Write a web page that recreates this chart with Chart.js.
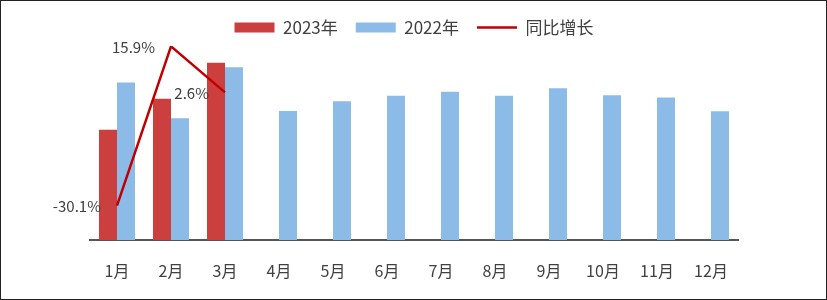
<!DOCTYPE html>
<html>
<head>
<meta charset="utf-8">
<script src="https://cdn.jsdelivr.net/npm/chart.js@4/dist/chart.umd.min.js"></script>
<style>
  html, body { margin: 0; padding: 0; background: #fff; }
  .frame {
    width: 827px;
    height: 300px;
    box-sizing: border-box;
    border: 1px solid #222;
    position: relative;
  }
  .frame canvas { display: block; }
</style>
</head>
<body>
<div class="frame">
  <canvas id="salesChart"></canvas>
</div>
<script>
// Data (bar heights in arbitrary units, growth in %)
const months = ['1月', '2月', '3月', '4月', '5月', '6月', '7月', '8月', '9月', '10月', '11月', '12月'];
const sales2023 = [68.2, 87.3, 109.6, null, null, null, null, null, null, null, null, null];
const sales2022 = [97.5, 75.3, 106.8, 79.8, 85.8, 89.2, 91.7, 89.2, 93.8, 89.5, 88.2, 79.6];
const growth = [-30.1, 15.9, 2.6, null, null, null, null, null, null, null, null, null];

const fontFamily = "'Noto Sans CJK SC', 'Liberation Sans', sans-serif";
const textColor = '#404040';

// Draw the percentage labels to the left of each growth point
const growthLabels = {
  id: 'growthLabels',
  afterDatasetsDraw(chart) {
    const ctx = chart.ctx;
    const meta = chart.getDatasetMeta(2);
    ctx.save();
    ctx.font = '15px ' + fontFamily;
    ctx.fillStyle = textColor;
    ctx.textAlign = 'right';
    ctx.textBaseline = 'middle';
    meta.data.forEach((pt, i) => {
      if (growth[i] === null) return;
      ctx.fillText(growth[i].toFixed(1) + '%', pt.x - 16, pt.y + 1);
    });
    ctx.restore();
  }
};

const ctx = document.getElementById('salesChart').getContext('2d');

new Chart(ctx, {
  type: 'bar',
  data: {
    labels: months,
    datasets: [
      {
        label: '2023年',
        data: sales2023,
        backgroundColor: '#CC3F3F',
        pointStyle: 'rect',
        order: 1,
        yAxisID: 'y'
      },
      {
        label: '2022年',
        data: sales2022,
        backgroundColor: '#8DBBE8',
        pointStyle: 'rect',
        order: 1,
        yAxisID: 'y'
      },
      {
        type: 'line',
        label: '同比增长',
        data: growth,
        borderColor: '#C00000',
        backgroundColor: '#C00000',
        borderWidth: 2.5,
        pointRadius: 0,
        pointStyle: 'line',
        order: 0,
        yAxisID: 'y1'
      }
    ]
  },
  options: {
    responsive: true,
    maintainAspectRatio: false,
    animation: false,
    layout: {
      padding: { top: 0, left: 89, right: 88, bottom: 18 }
    },
    datasets: {
      bar: { categoryPercentage: 0.667, barPercentage: 1 }
    },
    plugins: {
      tooltip: { enabled: false },
      legend: {
        position: 'top',
        labels: {
          usePointStyle: true,
          pointStyleWidth: 40,
          boxHeight: 10,
          padding: 18,
          color: textColor,
          font: { family: fontFamily, size: 17 },
          sort: (a, b) => a.datasetIndex - b.datasetIndex
        }
      }
    },
    scales: {
      x: {
        grid: { display: false, drawTicks: false },
        border: { display: true, color: '#555', width: 2 },
        ticks: {
          padding: 21,
          color: textColor,
          font: { family: fontFamily, size: 16 }
        },
        afterFit: (scale) => { scale.height = 41; }
      },
      y: {
        display: false,
        min: 0,
        max: 120
      },
      y1: {
        display: false,
        position: 'right',
        min: -40,
        max: 16
      }
    }
  },
  plugins: [growthLabels]
});
</script>
</body>
</html>
